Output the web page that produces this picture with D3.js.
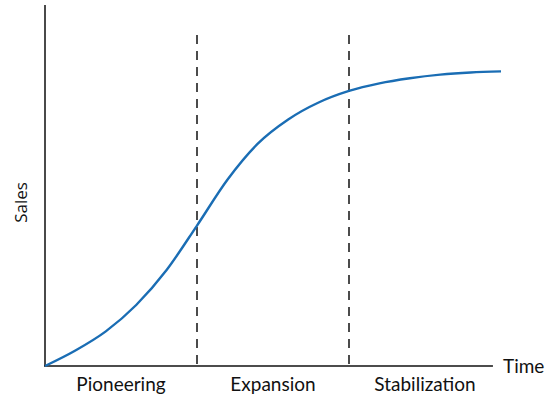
<!DOCTYPE html>
<html><head><meta charset="utf-8">
<script src="https://cdn.jsdelivr.net/npm/d3@7"></script>
<style>body{margin:0;background:#fff;}svg{display:block;}</style>
</head><body>
<script>
// Data
const times = [0, 0.2, 0.4, 0.6, 0.8, 1.0, 1.2, 1.4, 1.6, 1.8, 2.0, 2.2, 2.4, 2.6, 2.8, 3.0];
const sales = [0, 4.3, 9.6, 16.9, 26.6, 38.9, 51.6, 61.6, 68.3, 73.0, 76.2, 78.3, 79.7, 80.7, 81.3, 81.6];
const phases = ["Pioneering", "Expansion", "Stabilization"];
const boundaries = [1, 2];

const W = 547, H = 399;
const svg = d3.select("body").append("svg").attr("width", W).attr("height", H);

const x = d3.scaleLinear().domain([0, 3]).range([45, 501]);
const y = d3.scaleLinear().domain([0, 100]).range([366, 5]);

// y axis
svg.append("line").attr("x1", x(0)).attr("x2", x(0)).attr("y1", y(0)).attr("y2", y(100))
  .attr("stroke", "#4a4a4a").attr("stroke-width", 2);
// x axis
svg.append("line").attr("x1", x(0) - 1).attr("x2", x(2.947)).attr("y1", y(0)).attr("y2", y(0))
  .attr("stroke", "#111").attr("stroke-width", 1.6);

// dashed boundaries
svg.selectAll("line.b").data(boundaries).enter().append("line")
  .attr("x1", d => x(d)).attr("x2", d => x(d))
  .attr("y1", y(91.7)).attr("y2", y(0))
  .attr("stroke", "#111").attr("stroke-width", 1.5)
  .attr("stroke-dasharray", "9,7");

// curve
const line = d3.line().x((d, i) => x(times[i])).y(d => y(d)).curve(d3.curveMonotoneX);
svg.append("path").attr("d", line(sales)).attr("fill", "none")
  .attr("stroke", "#1a6db4").attr("stroke-width", 2.4);

// phase labels
svg.selectAll("text.p").data(phases).enter().append("text")
  .attr("x", (d, i) => x(i + 0.5)).attr("y", 391)
  .attr("text-anchor", "middle")
  .attr("font-family", "Lato, 'Open Sans', sans-serif").attr("font-size", 19)
  .attr("fill", "#111").text(d => d);

svg.append("text").attr("x", 503).attr("y", 373)
  .attr("font-family", "Lato, 'Open Sans', sans-serif").attr("font-size", 19)
  .attr("fill", "#111").text("Time");

svg.append("text").attr("transform", "translate(26.5,202.5) rotate(-90)")
  .attr("text-anchor", "middle")
  .attr("font-family", "'Open Sans', sans-serif").attr("font-size", 17)
  .attr("fill", "#111").text("Sales");
</script>
</body></html>
